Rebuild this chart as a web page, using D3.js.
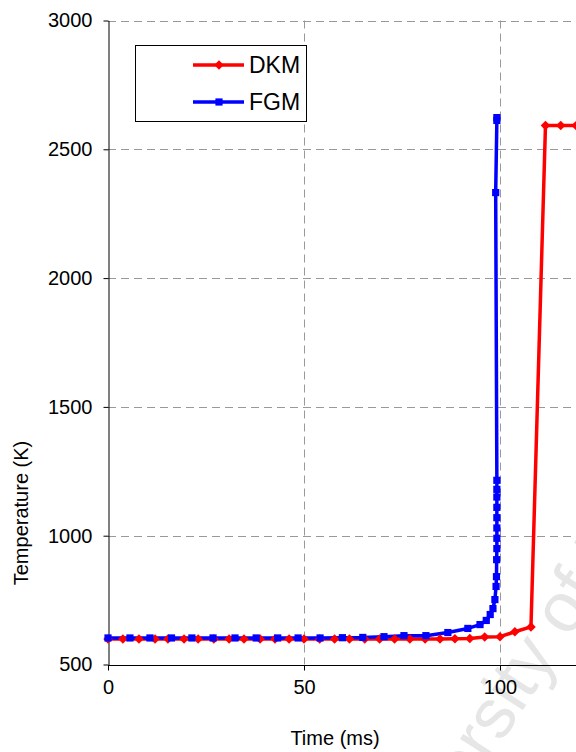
<!DOCTYPE html>
<html>
<head>
<meta charset="utf-8">
<script src="https://cdn.jsdelivr.net/npm/d3@7"></script>
<style>
    html, body { margin: 0; padding: 0; background: #fff; }
    svg { display: block; font-family: "Liberation Sans", Arial, sans-serif; }
</style>
</head>
<body>
<div id="chart"></div>
<script>

// DKM series (red, diamonds)
const dkmTime = [0, 3.8, 7.9, 12.0, 15.3, 19.4, 23.0, 27.0, 30.9, 34.7, 38.8, 42.6, 46.2, 50.0,
    54.0, 57.8, 61.6, 65.5, 69.3, 73.1, 77.0, 80.9, 84.7, 88.5, 92.3, 96.1, 100.0, 103.8, 107.9,
    111.6, 115.5, 119.4, 123.3];
const dkmTemp = [599, 599, 599, 599, 599, 599, 599, 599, 599, 599, 599, 599, 599, 599,
    599, 599, 599, 599, 599, 599, 599, 599, 599, 600, 601, 607, 608, 627, 646,
    2592, 2592, 2592, 2592];

// FGM series (blue, squares)
const fgmTime = [0, 5.6, 10.7, 16.2, 21.4, 26.8, 32.4, 37.8, 43.3, 48.5, 54.1, 59.8, 65.0, 70.4,
    75.5, 81.1, 86.7, 91.8, 94.9, 96.5, 97.5, 98.2, 98.7, 99.0, 99.1, 99.15, 99.2, 99.2, 99.2,
    99.2, 99.2, 99.2, 99.2, 99.2, 98.9, 99.2, 99.2];
const fgmTemp = [603, 603, 603, 603, 603, 603, 603, 603, 603, 603, 603, 604, 605, 608,
    612, 612, 624, 640, 655, 671, 694, 717, 752, 803, 841, 907, 950, 990, 1030,
    1070, 1110, 1150, 1180, 1215, 2332, 2612, 2623];

const xTicks = [0, 50, 100, 150];
const yTicks = [500, 1000, 1500, 2000, 2500, 3000];

const svgWidth = 576;
const svgHeight = 752;

const x = d3.scaleLinear().domain([0, 150]).range([108, 108 + 150 * 3.92]);
const y = d3.scaleLinear().domain([500, 3000]).range([664.5, 20.5]);

const svg = d3.select('#chart').append('svg')
    .attr('width', svgWidth)
    .attr('height', svgHeight);

// watermark
svg.append('text')
    .attr('transform', 'translate(391,913) rotate(-57)')
    .attr('fill', '#e6e6e6')
    .style('font-size', '70px')
    .text('University of Malaya');

// grid
const grid = svg.append('g')
    .attr('stroke', '#999')
    .attr('stroke-width', 1)
    .attr('stroke-dasharray', '8,5');

grid.selectAll('.hgrid')
    .data(yTicks.slice(1))
    .enter()
    .append('line')
    .attr('x1', x(0))
    .attr('x2', svgWidth)
    .attr('y1', d => Math.round(y(d)) + 0.5)
    .attr('y2', d => Math.round(y(d)) + 0.5);

grid.selectAll('.vgrid')
    .data(xTicks.slice(1))
    .enter()
    .append('line')
    .attr('x1', d => Math.round(x(d)) + 0.5)
    .attr('x2', d => Math.round(x(d)) + 0.5)
    .attr('y1', y(3000))
    .attr('y2', y(500));

// axes
const xAxis = svg.append('g')
    .attr('transform', `translate(0,${Math.round(y(500)) + 0.5})`)
    .call(d3.axisBottom(x).tickValues(xTicks).tickFormat(d3.format('d'))
        .tickSize(5).tickPadding(9).tickSizeOuter(0));

const yAxis = svg.append('g')
    .attr('transform', `translate(${Math.round(x(0)) + 0.5},0)`)
    .call(d3.axisLeft(y).tickValues(yTicks).tickFormat(d3.format('d'))
        .tickSize(5).tickPadding(11).tickSizeOuter(0));

[xAxis, yAxis].forEach(a => {
    a.select('.domain').attr('stroke', '#000');
    a.selectAll('.tick line').attr('stroke', '#000');
    a.selectAll('.tick text')
        .attr('fill', '#000')
        .style('font-family', '"Liberation Sans", Arial, sans-serif')
        .style('font-size', '20px');
});
xAxis.select('.domain').attr('d', `M${x(0)},0H${svgWidth}`);

// series
const dkm = dkmTime.map((t, i) => ({ t: t, v: dkmTemp[i] }));
const fgm = fgmTime.map((t, i) => ({ t: t, v: fgmTemp[i] }));

const line = d3.line()
    .x(d => x(d.t))
    .y(d => y(d.v));

const plot = svg.append('g');

plot.append('path')
    .datum(dkm)
    .attr('d', line)
    .attr('fill', 'none')
    .attr('stroke', '#ff0000')
    .attr('stroke-width', 3.5)
    .attr('stroke-linejoin', 'round');

plot.append('path')
    .datum(fgm)
    .attr('d', line)
    .attr('fill', 'none')
    .attr('stroke', '#0000ff')
    .attr('stroke-width', 3.5)
    .attr('stroke-linejoin', 'round');

const diamond = d3.symbol().type(d3.symbolDiamond2).size(58);
const square = d3.symbol().type(d3.symbolSquare).size(52);

plot.selectAll('.dkm-pt')
    .data(dkm)
    .enter()
    .append('path')
    .attr('d', diamond)
    .attr('transform', d => `translate(${x(d.t)},${y(d.v)})`)
    .attr('fill', '#ff0000');

plot.selectAll('.fgm-pt')
    .data(fgm)
    .enter()
    .append('path')
    .attr('d', square)
    .attr('transform', d => `translate(${x(d.t)},${y(d.v)})`)
    .attr('fill', '#0000ff');

// axis titles
svg.append('text')
    .attr('x', 335)
    .attr('y', 745)
    .attr('text-anchor', 'middle')
    .style('font-size', '20px')
    .text('Time (ms)');

svg.append('text')
    .attr('transform', 'translate(28,513) rotate(-90)')
    .attr('text-anchor', 'middle')
    .style('font-size', '20px')
    .text('Temperature (K)');

// legend
const legend = svg.append('g');

legend.append('rect')
    .attr('x', 135.5)
    .attr('y', 45.5)
    .attr('width', 171)
    .attr('height', 76)
    .attr('fill', '#fff')
    .attr('stroke', '#000');

const legendItems = [
    { name: 'DKM', color: '#ff0000', symbol: diamond, y: 65 },
    { name: 'FGM', color: '#0000ff', symbol: square, y: 102 }
];

legendItems.forEach(d => {
    legend.append('line')
        .attr('x1', 193).attr('x2', 244)
        .attr('y1', d.y).attr('y2', d.y)
        .attr('stroke', d.color)
        .attr('stroke-width', 3.5);
    legend.append('path')
        .attr('d', d.symbol)
        .attr('transform', `translate(219,${d.y})`)
        .attr('fill', d.color);
    legend.append('text')
        .attr('x', 249)
        .attr('y', d.y + 8)
        .style('font-size', '23px')
        .text(d.name);
});

</script>
</body>
</html>
